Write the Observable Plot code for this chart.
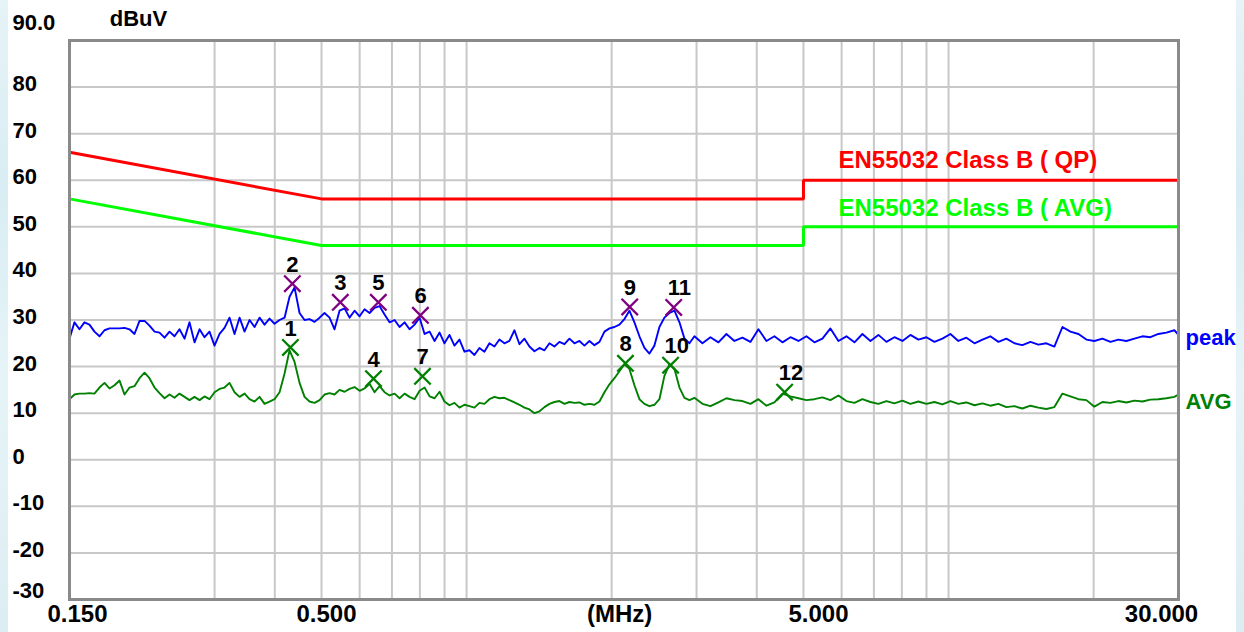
<!DOCTYPE html>
<html><head><meta charset="utf-8">
<script src="https://cdn.jsdelivr.net/npm/d3@7"></script>
<script src="https://cdn.jsdelivr.net/npm/@observablehq/plot@0.6"></script>
<style>
html,body{margin:0;padding:0;background:#fff;overflow:hidden;}
#wrap{position:relative;width:1244px;height:632px;}
.strip{position:absolute;top:0;height:632px;background:linear-gradient(180deg,#e6f3f7,#d8edf3 30%,#e6f4f7 60%,#dcedf3);}
#chart{position:absolute;left:0;top:0;}
</style></head>
<body>
<div id="wrap"><div class="strip" style="left:0;width:8px"></div><div class="strip" style="left:1236px;width:8px"></div><div id="chart"></div></div>
<script>
// ---- data ----
const freqs = [
0.1500,0.1536,0.1573,0.1611,0.1650,0.1690,0.1731,0.1773,0.1816,0.1860,
0.1905,0.1951,0.1998,0.2046,0.2096,0.2147,0.2198,0.2252,0.2306,0.2362,
0.2419,0.2477,0.2537,0.2599,0.2661,0.2726,0.2792,0.2859,0.2928,0.2999,
0.3072,0.3146,0.3222,0.3300,0.3380,0.3462,0.3545,0.3631,0.3719,0.3809,
0.3901,0.3995,0.4092,0.4191,0.4292,0.4396,0.4502,0.4611,0.4722,0.4837,
0.4954,0.5073,0.5196,0.5321,0.5450,0.5582,0.5717,0.5855,0.5997,0.6141,
0.6291,0.6443,0.6598,0.6758,0.6921,0.7089,0.7260,0.7436,0.7615,0.7799,
0.7989,0.8182,0.8380,0.8582,0.8789,0.8997,0.9214,0.9437,0.9665,0.9898,
1.0136,1.0381,1.0632,1.0889,1.1152,1.1423,1.1699,1.1982,1.2271,1.2568,
1.2873,1.3184,1.3502,1.3829,1.4163,1.4506,1.4857,1.5216,1.5584,1.5960,
1.6346,1.6741,1.7146,1.7560,1.7985,1.8421,1.8866,1.9322,1.9789,2.0267,
2.0754,2.1256,2.1770,2.2296,2.2835,2.3388,2.3953,2.4532,2.5125,2.5732,
2.6359,2.6996,2.7649,2.8317,2.9002,2.9698,
3.0855,3.2057,3.3306,3.4604,3.5952,3.7353,3.8808,4.0320,4.1891,4.3523,
4.5219,4.6981,4.8811,5.0713,5.2689,5.4742,5.6875,5.9090,6.1393,6.3785,
6.627,6.885,7.153,7.432,7.721,8.022,8.335,8.659,8.997,9.347,
9.711,10.09,10.48,10.89,11.32,11.76,12.21,12.69,13.18,13.70,
14.23,14.79,15.36,15.96,16.58,17.23,17.90,18.60,19.32,20.07,
20.86,21.67,22.51,23.39,24.30,25.25,26.23,27.25,28.31,29.41,
30.0
];
const peakLevels = [
26,29.5,28,29.5,29,27.5,26.5,27.8,28.2,28.2,
28.2,28.3,28,27,29.8,29.8,28.8,27.5,27.3,26.2,
27.5,26.5,28,26,29.5,25.2,28,26.3,27.5,24.5,
27,28.3,30.5,27,30.5,27.5,30,28.5,30.5,29,
30.3,29.2,30,30.5,35,37,31.5,30,30.2,29.6,
30.5,31.5,30.5,28,32,32.5,30.5,32,30.8,32.3,
31.5,32.6,33,31.2,29.5,30,28.5,29.5,28,29,
30.5,27,27.5,25.5,27.3,25,26.8,24.5,25.8,23.2,
23.5,22.5,24,23.2,25,24.3,25.8,25,25.5,27.8,
24.8,26,24.3,23.3,24,23.5,25,24.3,25.3,24.8,
26,25,25.5,24.5,25.5,24.6,25.3,27.5,28.2,28.5,
29,30.2,32,29.5,26.5,24,22.8,24.5,28.5,30.5,
31.5,32,29.5,26,25,26.5,
25,26.3,25.2,27,25.5,26.2,25.3,28,25.5,26.5,
25.2,26.3,25.5,26.5,25.2,26,28.2,25.5,26.5,25.2,
27,25.5,26.8,25.3,26.3,25.5,26.8,25.8,26.3,25.3,
26,27,25.5,26.2,25,25.8,26.5,25.3,26,25,
24.6,25.3,24.7,25,24.3,28.5,27.5,27,25.8,25.5,
26,25.3,25.8,25.5,26,26.5,26.3,27,27.3,27.8,
26.8
];
const avgLevels = [
13,14,14.2,14.2,14.3,14.2,15.5,16.5,15.3,16,
17,14,15.5,15.8,17.5,18.7,17.5,15.5,14.3,13.2,
14,13.3,14.2,13.5,12.8,13.5,12.8,13.6,13,14.5,
15.2,15.5,16.5,14.5,13.5,14.2,13,12.5,13.5,12,
12.5,13,14.5,18.5,23.5,21,16.5,13.5,12.5,12.2,
12.8,14,14.3,14,15,14.6,15.2,15.6,14.8,15.3,
16.3,14.5,15.8,14.5,13.8,14.2,13.2,14.2,13.5,13,
14.8,15.5,13.6,13.2,14.6,12.5,11.7,12.2,11.2,11.8,
11.5,11.2,12.2,12,13,13.5,13.2,13.3,12.8,12.3,
11.8,11.2,10.8,10,10.4,11.3,12,12.4,12.6,12,
12.4,12.2,12.3,11.8,12,11.8,12.5,14.5,16.2,17.5,
19,20.5,19.5,16,13,12,11.5,11.8,13,18,
20.5,19.5,15.5,13.3,12.8,13.3,
12,11.5,12.3,13.2,12.8,12.6,12,13,11.6,12.3,
14.2,13.6,13.2,12.8,13,13.4,12.8,13.8,12.6,12.2,
13,12.4,12,12.6,12.1,12.7,12,12.5,12,12.4,
11.9,12.6,12,12.3,11.7,12.1,11.6,12,11.3,11.5,
11,11.6,11.2,10.9,11.3,14.2,13.6,13,12.8,11.4,
12.4,12.2,12.6,12.3,12.7,12.5,12.9,13,13.2,13.5,
14
];
// EN55032 Class B limits (MHz, dBuV)
const qpLimitFreqs = [0.15, 0.5, 5, 5, 30];
const qpLimitLevels = [66, 56, 56, 60, 60];
const avgLimitFreqs = [0.15, 0.5, 5, 5, 30];
const avgLimitLevels = [56, 46, 46, 50, 50];
// marker readings
const markerNo = [1,2,3,4,5,6,7,8,9,10,11,12];
const markerFreq = [0.431,0.435,0.547,0.641,0.656,0.802,0.810,2.136,2.180,2.650,2.690,4.570];
const markerLevel = [24.1,37.8,33.8,17.4,33.8,31.0,17.9,20.7,32.8,20.3,32.7,14.5];
const markerTrace = ["avg","peak","peak","avg","peak","peak","avg","avg","peak","avg","peak","avg"];
// axes / grid
const gridFreqs = [0.3,0.4,0.5,0.6,0.7,0.8,0.9,1,2,3,4,5,6,7,8,9,10,20];
const yTicks = [90,80,70,60,50,40,30,20,10,0,-10,-20,-30];
const yTickLabels = ["90.0","80","70","60","50","40","30","20","10","0","-10","-20","-30"];
const xLabelFreqs = [0.15,0.5,2,5,30];
const xLabelTexts = ["0.150","0.500","(MHz)","5.000","30.000"];

// ---- build ----
const peak = freqs.map((f,i)=>({f, v: peakLevels[i]}));
const avg = freqs.map((f,i)=>({f, v: avgLevels[i]}));
const qp = qpLimitFreqs.map((f,i)=>({f, v: qpLimitLevels[i]}));
const avl = avgLimitFreqs.map((f,i)=>({f, v: avgLimitLevels[i]}));
const markers = markerNo.map((n,i)=>({n, f: markerFreq[i], v: markerLevel[i], t: markerTrace[i]}));
const yl = yTicks.map((v,i)=>({v, label: yTickLabels[i]}));
const xNudge = [8,5,8,15,-17];
const FONT = "'Liberation Sans', Arial, sans-serif";

const xLabelMarks = xLabelFreqs.map((f,i)=>Plot.text([{f, s: xLabelTexts[i]}], {
  x:"f", text:"s", frameAnchor:"bottom", lineAnchor:"middle", dy:15, dx:xNudge[i], fontSize:24, fontWeight:"bold", fill:"#000"
}));

const chart = Plot.plot({
  width:1244, height:632,
  marginLeft:69, marginRight:66, marginTop:40, marginBottom:33,
  x:{type:"log", domain:[0.15,30], axis:null},
  y:{domain:[-30,90], axis:null},
  style:{background:"transparent", fontFamily:FONT},
  marks:[
    Plot.ruleX(gridFreqs, {stroke:"#c8c8c8", strokeWidth:2}),
    Plot.ruleY(yTicks.filter(v=>v>-30 && v<90), {stroke:"#c8c8c8", strokeWidth:2}),
    Plot.line(qp, {x:"f", y:"v", stroke:"#ff0000", strokeWidth:3, strokeLinejoin:"miter", strokeLinecap:"butt"}),
    Plot.line(avl, {x:"f", y:"v", stroke:"#00ff00", strokeWidth:3, strokeLinejoin:"miter", strokeLinecap:"butt"}),
    Plot.line(peak, {x:"f", y:"v", stroke:"#0000ff", strokeWidth:1.9}),
    Plot.line(avg, {x:"f", y:"v", stroke:"#008000", strokeWidth:1.9}),
    Plot.dot(markers.filter(d=>d.t==="peak"), {x:"f", y:"v", symbol:"times", r:7.5, stroke:"#800080", strokeWidth:2.3}),
    Plot.dot(markers.filter(d=>d.t==="avg"), {x:"f", y:"v", symbol:"times", r:7.5, stroke:"#008000", strokeWidth:2.3}),
    Plot.text(markers, {x:"f", y:"v", text:d=>String(d.n), dx:-6, dy:-19, textAnchor:"start", fontSize:22, fontWeight:"bold", fill:"#000"}),
    Plot.frame({stroke:"#8a8a8a", strokeWidth:3}),
    Plot.text(yl.slice(1,-1), {y:"v", text:"label", frameAnchor:"left", lineAnchor:"middle", dx:-57, dy:-3, textAnchor:"start", fontSize:22, fontWeight:"bold", fill:"#000"}),
    Plot.text(yl.slice(0,1), {y:"v", text:"label", frameAnchor:"left", lineAnchor:"middle", dx:-57, dy:-18, textAnchor:"start", fontSize:22, fontWeight:"bold", fill:"#000"}),
    Plot.text(yl.slice(-1), {y:"v", text:"label", frameAnchor:"left", lineAnchor:"middle", dx:-57, dy:-9, textAnchor:"start", fontSize:22, fontWeight:"bold", fill:"#000"}),
    ...xLabelMarks,
    Plot.text(["dBuV"], {text:d=>d, frameAnchor:"top-left", lineAnchor:"middle", dx:69, dy:-22, textAnchor:"middle", fontSize:22, fontWeight:"bold", fill:"#000"}),
    Plot.text([qp[qp.length-2]], {x:"f", y:"v", text:()=>"EN55032 Class B ( QP)", dx:35, dy:-20, textAnchor:"start", fontSize:24, fontWeight:"bold", fill:"#ff0000"}),
    Plot.text([avl[avl.length-2]], {x:"f", y:"v", text:()=>"EN55032 Class B ( AVG)", dx:35, dy:-19, textAnchor:"start", fontSize:24, fontWeight:"bold", fill:"#00ff00"}),
    Plot.text([peak[peak.length-1]], {x:"f", y:"v", text:()=>"peak", dx:7, dy:3, textAnchor:"start", fontSize:22, fontWeight:"bold", fill:"#0000ff"}),
    Plot.text([avg[avg.length-1]], {x:"f", y:"v", text:()=>"AVG", dx:7, dy:7, textAnchor:"start", fontSize:22, fontWeight:"bold", fill:"#008000"})
  ]
});
document.getElementById("chart").appendChild(chart);
</script>
</body></html>
